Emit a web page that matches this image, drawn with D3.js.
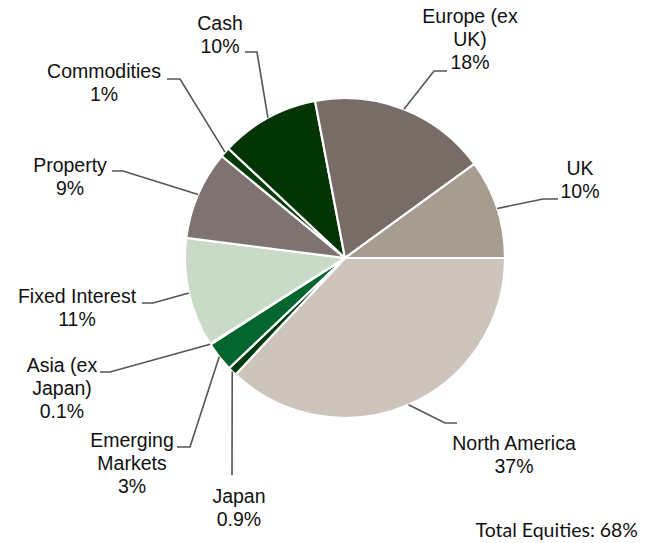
<!DOCTYPE html>
<html>
<head>
<meta charset="utf-8">
<script src="https://cdn.jsdelivr.net/npm/d3@7"></script>
<style>
    body { margin: 0; background: #fff; }
    text { font-family: "Liberation Sans", Arial, sans-serif; fill: #111; }
</style>
</head>
<body>
<div id="vis"></div>
<script>
// Portfolio split, clockwise from 3 o'clock
var categories = ['North America', 'Japan', 'Emerging Markets', 'Asia (ex Japan)', 'Fixed Interest',
    'Property', 'Commodities', 'Cash', 'Europe (ex UK)', 'UK'];
var values = [37, 0.9, 3, 0.1, 11, 9, 1, 10, 18, 10];
var valueLabels = ['37%', '0.9%', '3%', '0.1%', '11%', '9%', '1%', '10%', '18%', '10%'];
// how each category name wraps in its label
var nameLines = [['North America'], ['Japan'], ['Emerging', 'Markets'], ['Asia (ex', 'Japan)'], ['Fixed Interest'],
    ['Property'], ['Commodities'], ['Cash'], ['Europe (ex', 'UK)'], ['UK']];
var totalLabel = 'Total Equities: 68%';

var colors = ['#cdc5bc', '#013d0f', '#03662f', '#5f9a6a', '#c9dac7',
    '#7e7370', '#033a05', '#023503', '#786c67', '#a69c8f'];

// label placement: text centre / first baseline, elbow of leader, leader end at the text
var labelLayout = [
    {x: 514, y: 450, ex: 445, ey: 423, lx: 457, ly: 423},
    {x: 239, y: 503, ex: 232, ey: 475, lx: 232, ly: 475},
    {x: 132, y: 447, ex: 190, ey: 447, lx: 177, ly: 447},
    {x: 62,  y: 372, ex: 110, ey: 372, lx: 100, ly: 372},
    {x: 77,  y: 303, ex: 153, ey: 303, lx: 142, ly: 303},
    {x: 70,  y: 172, ex: 123, ey: 171, lx: 112, ly: 171},
    {x: 104, y: 78,  ex: 180, ey: 79,  lx: 167, ly: 79},
    {x: 220, y: 30,  ex: 257, ey: 52,  lx: 245, ly: 52},
    {x: 470, y: 23,  ex: 434, ey: 71,  lx: 447, ly: 71},
    {x: 580, y: 175, ex: 543, ey: 199, lx: 558, ly: 199}
];

var width = 654;
var height = 543;
var cx = 345, cy = 258;
var radius = 160;
var lineHeight = 23;

var svg = d3.select('#vis')
    .append('svg')
    .attr('width', width)
    .attr('height', height);

var data = categories.map(function(c, i) {
    return {name: c, value: values[i], label: valueLabels[i], lines: nameLines[i], pos: labelLayout[i], color: colors[i]};
});

var pie = d3.pie()
    .sort(null)
    .value(function(d) { return d.value; })
    .startAngle(Math.PI / 2)
    .endAngle(Math.PI / 2 + 2 * Math.PI);

var arc = d3.arc().innerRadius(0).outerRadius(radius);
var edge = d3.arc().innerRadius(radius).outerRadius(radius);

var arcs = pie(data);

var g = svg.append('g')
    .attr('transform', `translate(${cx},${cy})`);

g.selectAll('path.slice')
    .data(arcs)
    .enter()
    .append('path')
    .attr('class', 'slice')
    .attr('d', arc)
    .attr('fill', function(d) { return d.data.color; })
    .attr('stroke', '#fff')
    .attr('stroke-width', 2.2)
    .attr('stroke-linejoin', 'round');

// leader lines from the slice edge to the labels
svg.selectAll('polyline.leader')
    .data(arcs)
    .enter()
    .append('polyline')
    .attr('class', 'leader')
    .attr('points', function(d) {
        var p = edge.centroid(d);
        var l = d.data.pos;
        return [[cx + p[0], cy + p[1]], [l.ex, l.ey], [l.lx, l.ly]].map(function(q) { return q.join(','); }).join(' ');
    })
    .attr('fill', 'none')
    .attr('stroke', '#555')
    .attr('stroke-width', 1.6);

var labels = svg.selectAll('text.label')
    .data(data)
    .enter()
    .append('text')
    .attr('class', 'label')
    .attr('text-anchor', 'middle')
    .attr('font-size', 19.5);

labels.each(function(d) {
    var t = d3.select(this);
    d.lines.concat([d.label]).forEach(function(s, i) {
        t.append('tspan')
            .attr('x', d.pos.x)
            .attr('y', d.pos.y + i * lineHeight)
            .text(s);
    });
});

svg.append('text')
    .attr('x', 638)
    .attr('y', 537)
    .attr('text-anchor', 'end')
    .attr('font-size', 19.5)
    .style('font-family', 'Lato, sans-serif')
    .text(totalLabel);
</script>
</body>
</html>
